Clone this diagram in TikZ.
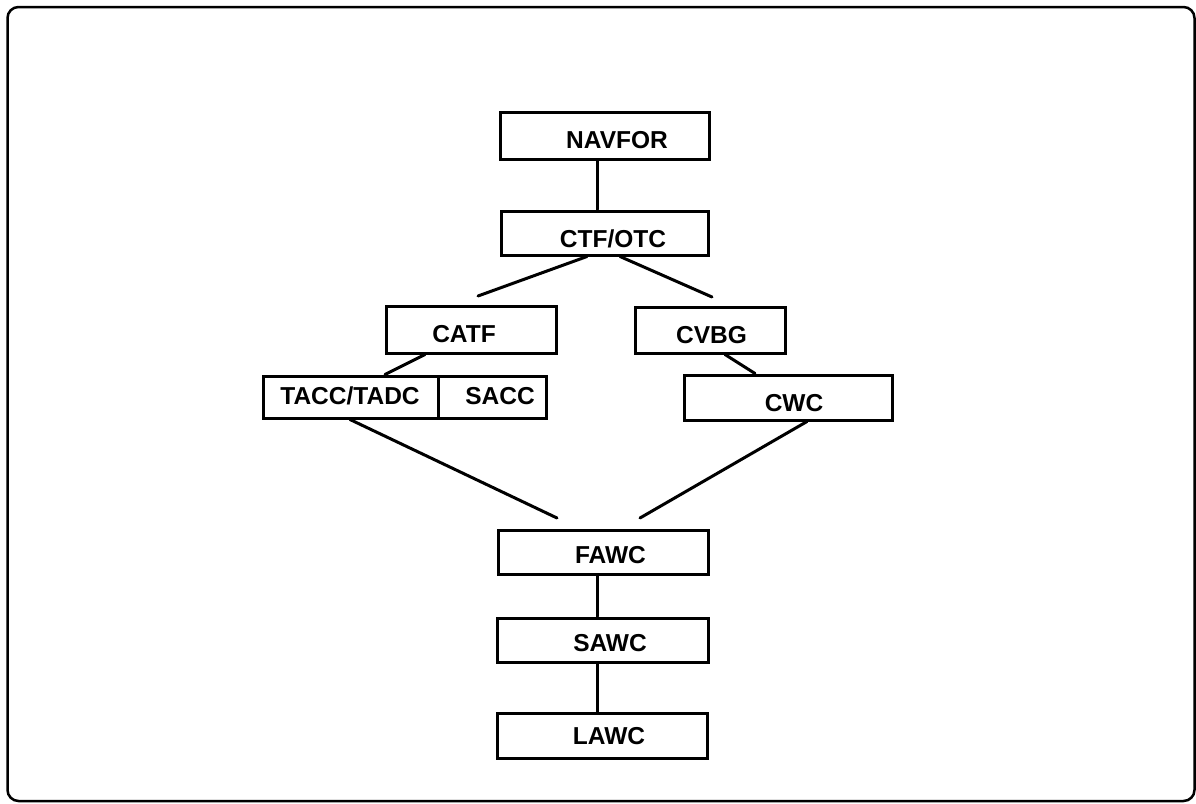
\documentclass[tikz,border=0pt]{standalone}
\usepackage{fontspec}
\setmainfont{Liberation Sans}
\begin{document}
\begin{tikzpicture}[x=1pt,y=-1pt,
  box/.style={draw=black,line width=3pt,inner sep=0pt,rectangle},
  lbl/.style={font=\fontsize{24.5}{28}\selectfont\bfseries,inner sep=0pt,anchor=center},
  conn/.style={line width=3pt,line cap=round}]
\useasboundingbox (0,0) rectangle (1196,803);
\draw[line width=2.5pt,rounded corners=11pt] (7.5,7) rectangle (1194.5,801);
% boxes
\node[box,minimum width=209pt,minimum height=47pt] (nav) at (604.5,135.5) {};
\node[lbl] (navt) at (617,140) {NAVFOR};
\node[box,minimum width=207pt,minimum height=44pt] (ctf) at (604.5,233) {};
\node[lbl] (ctft) at (613,238.5) {CTF/OTC};
\node[box,minimum width=170pt,minimum height=47pt] (catf) at (471,329.5) {};
\node[lbl] (catft) at (464,334) {CATF};
\node[box,minimum width=150pt,minimum height=46pt] (cvbg) at (710,330) {};
\node[lbl] (cvbgt) at (711.5,335) {CVBG};
\node[box,minimum width=175pt,minimum height=42pt] (tacc) at (350.5,397) {};
\node[lbl] (tacct) at (350,396) {TACC/TADC};
\node[box,minimum width=108pt,minimum height=42pt] (sacc) at (492,397) {};
\node[lbl] (sacct) at (500,396) {SACC};
\node[box,minimum width=208pt,minimum height=45pt] (cwc) at (788,397.5) {};
\node[lbl] (cwct) at (794,403) {CWC};
\node[box,minimum width=210pt,minimum height=44pt] (fawc) at (603,552) {};
\node[lbl] (fawct) at (610.5,555) {FAWC};
\node[box,minimum width=211pt,minimum height=44pt] (sawc) at (602.5,640) {};
\node[lbl] (sawct) at (610,643) {SAWC};
\node[box,minimum width=210pt,minimum height=45pt] (lawc) at (602,735.5) {};
\node[lbl] (lawct) at (609,736.5) {LAWC};
% free ends
\coordinate (ctfL) at (478,296);
\coordinate (ctfR) at (712,297);
\coordinate (fawL) at (557,518);
\coordinate (fawR) at (640,518);
% connectors
\draw[conn] ([xshift=-7.5pt]nav.south) -- ([xshift=-7.5pt]ctf.north);
\draw[conn] ([xshift=-17.5pt]ctf.south) -- (ctfL);
\draw[conn] ([xshift=15.5pt]ctf.south) -- (ctfR);
\draw[conn] ([xshift=-46pt]catf.south) -- ([xshift=34.5pt]tacc.north);
\draw[conn] ([xshift=15pt]cvbg.south) -- ([xshift=-33pt]cwc.north);
\draw[conn] ([xshift=-0.5pt]tacc.south) -- (fawL);
\draw[conn] ([xshift=19pt]cwc.south) -- (fawR);
\draw[conn] ([xshift=-6pt]fawc.south) -- ([xshift=-5.5pt]sawc.north);
\draw[conn] ([xshift=-5.5pt]sawc.south) -- ([xshift=-5pt]lawc.north);
\end{tikzpicture}
\end{document}
